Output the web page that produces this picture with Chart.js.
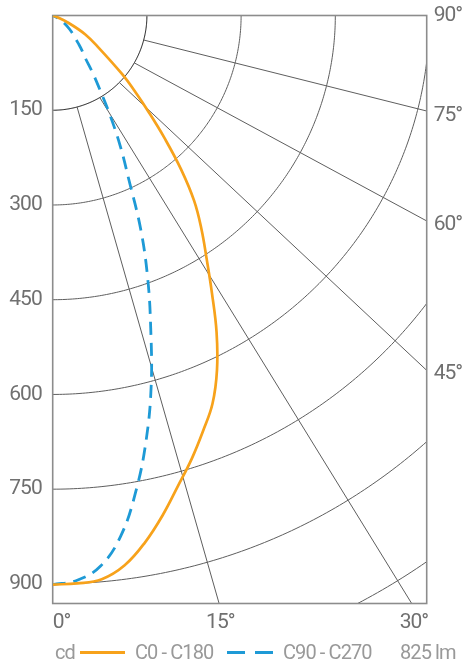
<!DOCTYPE html>
<html>
<head>
<meta charset="utf-8">
<script src="https://cdn.jsdelivr.net/npm/chart.js@4.4.0/dist/chart.umd.min.js"></script>
<style>
  html, body { margin: 0; padding: 0; background: #fff; }
  #wrap { position: relative; width: 464px; height: 667px; }
  #legend { position: absolute; left: 0; top: 638px; width: 464px; height: 28px;
            font-family: "Roboto", sans-serif; font-size: 20px; letter-spacing: -0.9px; color: #999; }
  #legend span, #legend i { position: absolute; top: 0; line-height: 28px; white-space: nowrap; }
  #legend i { height: 3px; top: 13px; }
</style>
</head>
<body>
<div id="wrap">
  <canvas id="polarChart" width="464" height="667"></canvas>
  <div id="legend">
    <span style="left:55px">cd</span>
    <i style="left:80px;width:45px;background:#F7A21B"></i>
    <span id="lab0" style="left:135px"></span>
    <i style="left:227px;width:46px;background:repeating-linear-gradient(to right,#1E9AD6 0 18px,transparent 18px 28px)"></i>
    <span id="lab1" style="left:283px"></span>
    <span id="flux" style="left:400px"></span>
  </div>
</div>
<script>
// photometric data, angle from nadir in degrees, intensity in cd
const angles   = [0, 2.5, 5, 7.5, 10, 12.5, 15, 17.5, 20, 22.5, 25, 27.5, 30, 32.5, 35, 37.5, 40, 42.5, 45, 47.5, 50, 55, 60, 65, 70, 75, 80, 85, 90];
const c0c180   = [901, 900, 896, 878, 847, 810, 771, 736, 700, 665, 619, 565, 507, 456, 413, 370, 318, 264, 216, 177, 144, 90, 60, 28, 5, 0, 0, 0, 0];
const c90c270  = [901, 895, 875, 831, 764, 688, 606, 519, 442, 366, 287, 233, 183, 141, 111, 86, 73, 61, 51, 44, 37, 26, 15, 5, 0, 0, 0, 0, 0];
const seriesNames = ['C0 - C180', 'C90 - C270'];
const fluxLabel = '825 lm';

// grid
const ringValues = [150, 300, 450, 600, 750, 900, 1050];
const cdTicks = [150, 300, 450, 600, 750, 900];
const spokeAngles = [15, 30, 45, 60, 75];
const bottomAngles = [0, 15, 30];
const sideAngles = [90, 75, 60, 45];

const X_MAX = 595.5;
const Y_MAX = 931;
const SKEW = 1.07;       // spokes in the source lean a bit away from true angles
const ZERO_SHIFT = 14;   // the 0° label sits to the right of the corner
const SIDE_DROP = 10;    // side angle labels sit a little under their spoke ends
const DEG = Math.PI / 180;

document.getElementById('lab0').textContent = seriesNames[0];
document.getElementById('lab1').textContent = seriesNames[1];
document.getElementById('flux').textContent = fluxLabel;

const toPoints = vals => angles.map((a, i) => ({ x: vals[i] * Math.sin(a * DEG), y: vals[i] * Math.cos(a * DEG) }));
const skewed = a => Math.atan(SKEW * Math.tan(a * DEG));

const bottomTicks = bottomAngles.map(a => a === 0 ? ZERO_SHIFT : Y_MAX * Math.tan(skewed(a)));
const sideTicks = sideAngles.map(a => a === 90 ? 0 : X_MAX / Math.tan(skewed(a)) + SIDE_DROP);

// fixed box sizes so the plot area lands where the source has it
const fixBox = (w, h) => s => {
  if (w !== null) s.width = w;
  if (h !== null) s.height = h;
  s.paddingTop = 0; s.paddingBottom = 0; s.paddingLeft = 0; s.paddingRight = 0;
};

const polarGrid = {
  id: 'polarGrid',
  beforeDraw(chart) {
    // narrower tick text, the source uses a condensed face
    chart.ctx.letterSpacing = '-1px';
  },
  beforeDatasetsDraw(chart) {
    const { ctx, chartArea: a, scales: { x, y } } = chart;
    ctx.save();
    ctx.beginPath();
    ctx.rect(a.left, a.top, a.right - a.left, a.bottom - a.top);
    ctx.clip();
    ctx.lineWidth = 1;
    ringValues.forEach((r, n) => {
      ctx.beginPath();
      for (let d = 0; d <= 90; d += 0.5) {
        const px = x.getPixelForValue(r * Math.sin(d * DEG));
        const py = y.getPixelForValue(r * Math.cos(d * DEG));
        d === 0 ? ctx.moveTo(px, py) : ctx.lineTo(px, py);
      }
      ctx.strokeStyle = n === 0 ? '#111' : '#5e5e5e';
      ctx.stroke();
    });
    ctx.strokeStyle = '#5e5e5e';
    spokeAngles.forEach(deg => {
      const r0 = ringValues[0], t = skewed(deg);
      ctx.beginPath();
      ctx.moveTo(x.getPixelForValue(r0 * Math.sin(deg * DEG)), y.getPixelForValue(r0 * Math.cos(deg * DEG)));
      ctx.lineTo(x.getPixelForValue(3000 * Math.sin(t)), y.getPixelForValue(3000 * Math.cos(t)));
      ctx.stroke();
    });
    ctx.restore();
    ctx.save();
    ctx.strokeStyle = '#8c8c8c';
    ctx.lineWidth = 1.6;
    ctx.strokeRect(a.left, a.top, a.right - a.left, a.bottom - a.top);
    ctx.restore();
  },
  afterDraw(chart) {
    chart.ctx.letterSpacing = '0px';
  }
};

const tickFont = { family: 'Roboto', size: 21 };

new Chart(document.getElementById('polarChart'), {
  type: 'scatter',
  data: {
    datasets: [
      { label: seriesNames[0], data: toPoints(c0c180), showLine: true, pointRadius: 0,
        borderColor: '#F7A21B', borderWidth: 2.7, tension: 0.4 },
      { label: seriesNames[1], data: toPoints(c90c270), showLine: true, pointRadius: 0,
        borderColor: '#1E9AD6', borderWidth: 2.8, borderDash: [13, 8], tension: 0.4 }
    ]
  },
  options: {
    responsive: false,
    animation: false,
    layout: { padding: { top: 15.5, left: 0, right: 0, bottom: 0 }, autoPadding: false },
    plugins: { legend: { display: false }, tooltip: { enabled: false } },
    scales: {
      x: {
        type: 'linear', position: 'bottom', min: 0, max: X_MAX,
        grid: { display: false, drawTicks: false }, border: { display: false },
        afterFit: fixBox(null, 63.5),
        afterBuildTicks: s => { s.ticks = bottomTicks.map(v => ({ value: v })); },
        ticks: { autoSkip: false, maxRotation: 0, padding: 7, color: '#707070', font: tickFont,
                 callback: (v, i) => bottomAngles[i] + '°' }
      },
      y: {
        type: 'linear', position: 'left', min: 0, max: Y_MAX, reverse: true,
        grid: { display: false, drawTicks: false }, border: { display: false },
        afterFit: fixBox(52.7, null),
        afterBuildTicks: s => { s.ticks = cdTicks.map(v => ({ value: v })); },
        ticks: { autoSkip: false, padding: 11, color: '#707070', font: tickFont }
      },
      y2: {
        type: 'linear', position: 'right', min: 0, max: Y_MAX, reverse: true,
        grid: { display: false, drawTicks: false }, border: { display: false },
        afterFit: fixBox(37.3, null),
        afterBuildTicks: s => { s.ticks = sideTicks.map(v => ({ value: v })); },
        ticks: { autoSkip: false, padding: 7, color: '#707070', font: tickFont,
                 callback: (v, i) => sideAngles[i] + '°' }
      }
    }
  },
  plugins: [polarGrid]
});
</script>
</body>
</html>
